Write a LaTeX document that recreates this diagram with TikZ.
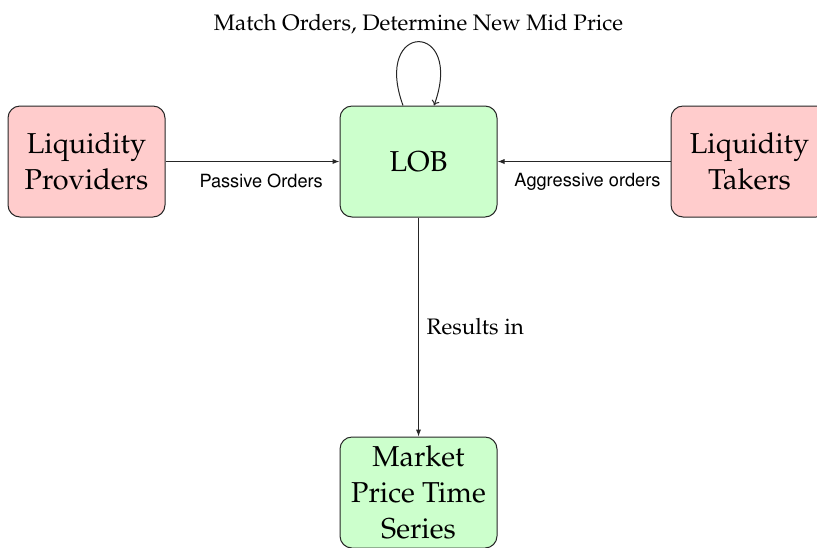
\documentclass[tikz,border=0pt]{standalone}
\usepackage[T1]{fontenc}
\usepackage{mathpazo}
\usetikzlibrary{arrows.meta}
\begin{document}
\begin{tikzpicture}[x=0.5pt,y=-0.5pt,
  box/.style={draw=black!85, line width=0.5pt, rounded corners=6pt,
    minimum width=78.5pt, minimum height=55.5pt, align=center,
    font=\Large, inner sep=0pt},
  redbox/.style={box, fill=red!20},
  greenbox/.style={box, fill=green!20},
  conn/.style={draw=black!85, line width=0.5pt, -{Latex[length=3.5pt,width=2.6pt]}},
  loopconn/.style={draw=black!85, line width=0.5pt, -{To[length=2.5pt,width=4pt]}},
  sanslabel/.style={font=\fontfamily{phv}\fontsize{9.1}{11}\selectfont, inner sep=0pt},
  serlabel/.style={font=\fontsize{11.2}{13}\selectfont}]
\useasboundingbox (0,0) rectangle (817,547);
\node[redbox] (lp) at (86.5,161.5) {Liquidity\\Providers};
\node[greenbox] (lob) at (418.5,161.5) {LOB};
\node[redbox] (lt) at (749.5,161.5) {Liquidity\\Takers};
\node[greenbox] (mp) at (418.5,492.5) {Market\\Price Time\\Series};
\draw[conn] (lp.east) -- node[sanslabel, pos=0.55, below=6pt] (lpl) {Passive Orders} (lob.west);
\draw[conn] (lt.west) -- node[sanslabel, pos=0.48, below=6pt] (ltl) {Aggressive orders} (lob.east);
\draw[conn] (lob.south) -- node[serlabel, right=0.5pt] (ril) {Results in} (mp.north);
\draw[loopconn] ([xshift=-7.75pt]lob.north) .. controls +(-31,-85) and +(31,-85) .. node[serlabel, pos=0.5, above=0pt] (mol) {Match Orders, Determine New Mid Price} ([xshift=7.75pt]lob.north);
\end{tikzpicture}
\end{document}
